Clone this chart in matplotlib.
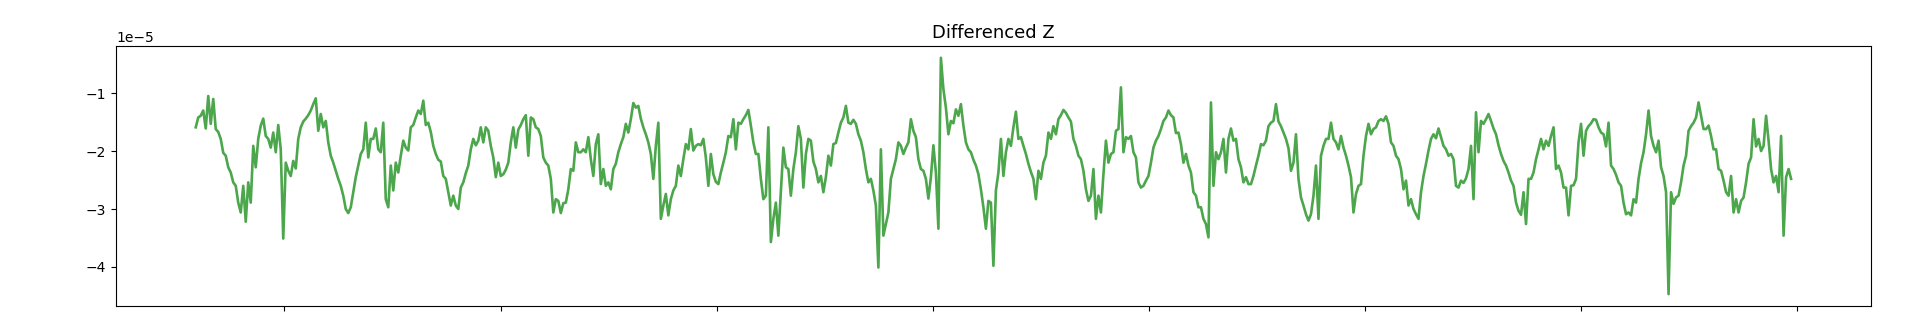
import matplotlib
matplotlib.use("Agg")
import matplotlib.pyplot as plt
from matplotlib.ticker import MultipleLocator
import numpy as np
import pandas as pd

# differenced Z (units of 1e-5), one block per stretch of the x axis
seg1 = [-1.59, -1.42, -1.39, -1.30, -1.61, -1.05, -1.53, -1.10, -1.62, -1.67,
        -1.79, -2.03, -2.08, -2.28, -2.37, -2.54, -2.60, -2.89, -3.06, -2.60,
        -3.22, -2.54, -2.89, -1.91, -2.28, -1.79, -1.56, -1.44, -1.74, -1.79,
        -1.94, -1.68, -2.02, -1.55, -1.97, -3.51, -2.20, -2.34, -2.43, -2.17,
        -2.30, -1.79, -1.59, -1.49, -1.44, -1.38, -1.30, -1.19, -1.09, -1.65,
        -1.36, -1.59, -1.48, -1.85, -2.08, -2.20, -2.34, -2.48, -2.60, -2.77,
        -3.00, -3.07, -2.97, -2.71, -2.45, -2.25, -2.05, -1.97, -1.51, -2.11,
        -1.79, -1.79, -1.61, -1.97]
seg2 = [-2.02, -1.51, -2.83, -2.97, -2.25, -2.68, -2.20, -2.37, -2.08, -1.82,
        -1.94, -1.99, -1.59, -1.55, -1.42, -1.30, -1.36, -1.13, -1.55, -1.51,
        -1.67, -1.91, -2.05, -2.15, -2.18, -2.43, -2.48, -2.71, -2.94, -2.77,
        -2.94, -3.00, -2.63, -2.54, -2.38, -2.25, -1.97, -1.79, -1.90, -1.82,
        -1.59, -1.85, -1.59, -1.65, -1.91, -2.11, -2.45, -2.20, -2.43, -2.40,
        -2.32, -2.20, -1.85, -1.59, -1.94, -1.63, -1.55, -1.45, -1.38, -2.08,
        -1.42, -1.45, -1.59, -1.62, -1.74, -2.11, -2.20, -2.25, -2.48, -3.06,
        -2.83, -2.86, -3.07, -2.90, -2.89, -2.66, -2.31, -2.34, -1.85, -2.02]
seg3 = [-2.02, -1.97, -2.02, -1.76, -2.14, -2.43, -1.88, -1.71, -2.57, -2.31,
        -2.60, -2.54, -2.66, -2.31, -2.22, -2.02, -1.88, -1.76, -1.53, -1.68,
        -1.45, -1.17, -1.25, -1.22, -1.44, -1.59, -1.71, -1.85, -2.05, -2.48,
        -1.91, -1.51, -3.17, -2.94, -2.74, -3.11, -2.83, -2.68, -2.60, -2.25,
        -2.43, -2.14, -1.88, -1.97, -1.62, -1.99, -1.91, -1.88, -1.90, -1.79,
        -2.11, -2.60, -2.05, -2.40, -2.53, -2.57, -2.37, -2.20, -2.02, -1.74,
        -1.76, -1.45, -1.97, -1.51, -1.53, -1.45, -1.38, -1.29, -1.56, -1.85,
        -2.05, -2.05, -2.48, -2.83, -2.77, -1.59, -3.57, -3.17, -2.89, -3.46]
seg4 = [-2.71, -1.94, -2.28, -2.31, -2.77, -2.31, -2.02, -1.57, -1.79, -2.63,
        -2.05, -1.79, -1.82, -2.18, -2.31, -2.54, -2.43, -2.71, -2.45, -2.08,
        -2.25, -1.88, -1.86, -1.68, -1.51, -1.42, -1.22, -1.51, -1.53, -1.46,
        -1.53, -1.71, -1.82, -2.02, -2.31, -2.54, -2.48, -2.68, -2.94, -4.01,
        -1.97, -3.46, -3.26, -3.06, -2.48, -2.31, -2.14, -1.85, -1.91, -2.05,
        -1.94, -1.85, -1.45, -1.65, -1.76, -2.14, -2.31, -2.34, -2.48, -2.82,
        -2.45, -1.90, -2.37, -3.34, -0.39, -0.93, -1.25, -1.71, -1.48, -1.52,
        -1.28, -1.39, -1.19, -1.56, -1.85, -1.97, -2.02, -2.15, -2.25, -2.40]
seg5 = [-2.66, -2.97, -3.34, -2.86, -2.89, -3.98, -2.68, -2.37, -1.79, -2.43,
        -2.02, -1.79, -1.91, -1.59, -1.32, -1.79, -1.76, -1.91, -2.05, -2.22,
        -2.36, -2.48, -2.83, -2.34, -2.48, -2.20, -2.08, -1.68, -1.79, -1.57,
        -1.71, -1.45, -1.38, -1.29, -1.34, -1.42, -1.49, -1.79, -1.91, -2.08,
        -2.14, -2.34, -2.66, -2.86, -2.77, -2.31, -3.17, -2.77, -3.06, -2.40,
        -1.82, -2.20, -2.05, -2.02, -1.65, -1.62, -0.90, -2.02, -1.76, -1.79,
        -1.74, -2.02, -2.11, -2.54, -2.63, -2.60, -2.51, -2.43, -2.20, -1.94,
        -1.82, -1.74, -1.62, -1.48, -1.42, -1.30, -1.38, -1.42, -1.69, -1.68]
seg6 = [-1.88, -2.20, -2.05, -2.25, -2.37, -2.71, -2.77, -2.97, -2.97, -3.17,
        -3.26, -3.49, -1.16, -2.60, -2.02, -2.14, -2.02, -1.79, -2.37, -1.79,
        -1.61, -1.82, -1.79, -2.14, -2.28, -2.54, -2.45, -2.57, -2.57, -2.43,
        -2.25, -2.08, -1.88, -1.90, -1.82, -1.57, -1.51, -1.48, -1.19, -1.49,
        -1.57, -1.68, -1.79, -1.95, -2.34, -2.20, -1.71, -2.48, -2.80, -2.94,
        -3.09, -3.20, -3.09, -2.77, -2.25, -3.17, -2.08, -1.91, -1.79, -1.79,
        -1.51, -1.79, -1.85, -1.97, -1.74, -1.94, -2.08, -2.25, -2.45, -3.06,
        -2.74, -2.60, -2.57, -2.08, -1.74, -1.53, -1.71, -1.62, -1.59, -1.48]
seg7 = [-1.45, -1.48, -1.40, -1.53, -1.85, -1.91, -2.08, -2.14, -2.31, -2.66,
        -2.51, -2.94, -2.83, -3.00, -3.09, -3.17, -2.71, -2.43, -2.22, -1.99,
        -1.79, -1.71, -1.78, -1.61, -1.76, -1.91, -1.97, -2.08, -2.05, -2.14,
        -2.60, -2.63, -2.51, -2.55, -2.47, -2.31, -1.91, -2.83, -1.33, -2.02,
        -1.48, -1.53, -1.45, -1.36, -1.48, -1.61, -1.71, -1.90, -2.05, -2.17,
        -2.25, -2.37, -2.51, -2.60, -2.89, -3.03, -3.10, -2.71, -3.26, -2.48,
        -2.48, -2.37, -2.14, -1.97, -1.79, -1.97, -1.82, -1.91, -1.74, -1.59,
        -2.31, -2.25, -2.37, -2.63, -2.63, -3.11, -2.60, -2.59, -2.48, -1.85]
seg8 = [-1.53, -2.08, -1.65, -1.57, -1.52, -1.45, -1.46, -1.59, -1.68, -1.71,
        -1.92, -1.51, -2.25, -2.31, -2.41, -2.54, -2.60, -2.89, -3.09, -3.06,
        -3.11, -2.83, -2.89, -2.48, -2.21, -2.02, -1.71, -1.30, -1.74, -1.91,
        -2.02, -1.82, -2.28, -2.43, -2.71, -4.47, -2.71, -2.91, -2.80, -2.77,
        -2.54, -2.25, -2.08, -1.65, -1.57, -1.51, -1.42, -1.16, -1.39, -1.62,
        -1.62, -1.56, -1.74, -1.97, -1.97, -2.31, -2.34, -2.51, -2.71, -2.77,
        -2.43, -3.06, -2.83, -3.06, -2.86, -2.80, -2.54, -2.22, -2.11, -1.45,
        -1.92, -1.79, -2.00, -1.91, -1.39, -1.82, -2.31, -2.54, -2.43, -2.71,
        -1.74, -3.46, -2.45, -2.31, -2.48]

start_date = "2015-08-04"
end_date = "2022-12-22"

values = np.array(seg1 + seg2 + seg3 + seg4 + seg5 + seg6 + seg7 + seg8) * 1e-5
dates = pd.date_range(start_date, end_date, periods=len(values))

fig = plt.figure(figsize=(19.2, 3.25), dpi=100)
ax = fig.add_axes([0.0604, 0.0585, 0.914, 0.8])
ax.plot(dates, values, color="green", alpha=0.7, linewidth=1.9)
ax.set_title("Differenced Z", fontsize=13)
ax.yaxis.set_major_locator(MultipleLocator(1e-5))
ax.tick_params(axis="x", labelbottom=False)
ax.tick_params(axis="y", labelsize=10)
ax.yaxis.get_offset_text().set_fontsize(10)

fig.savefig("out.png", dpi=100)
